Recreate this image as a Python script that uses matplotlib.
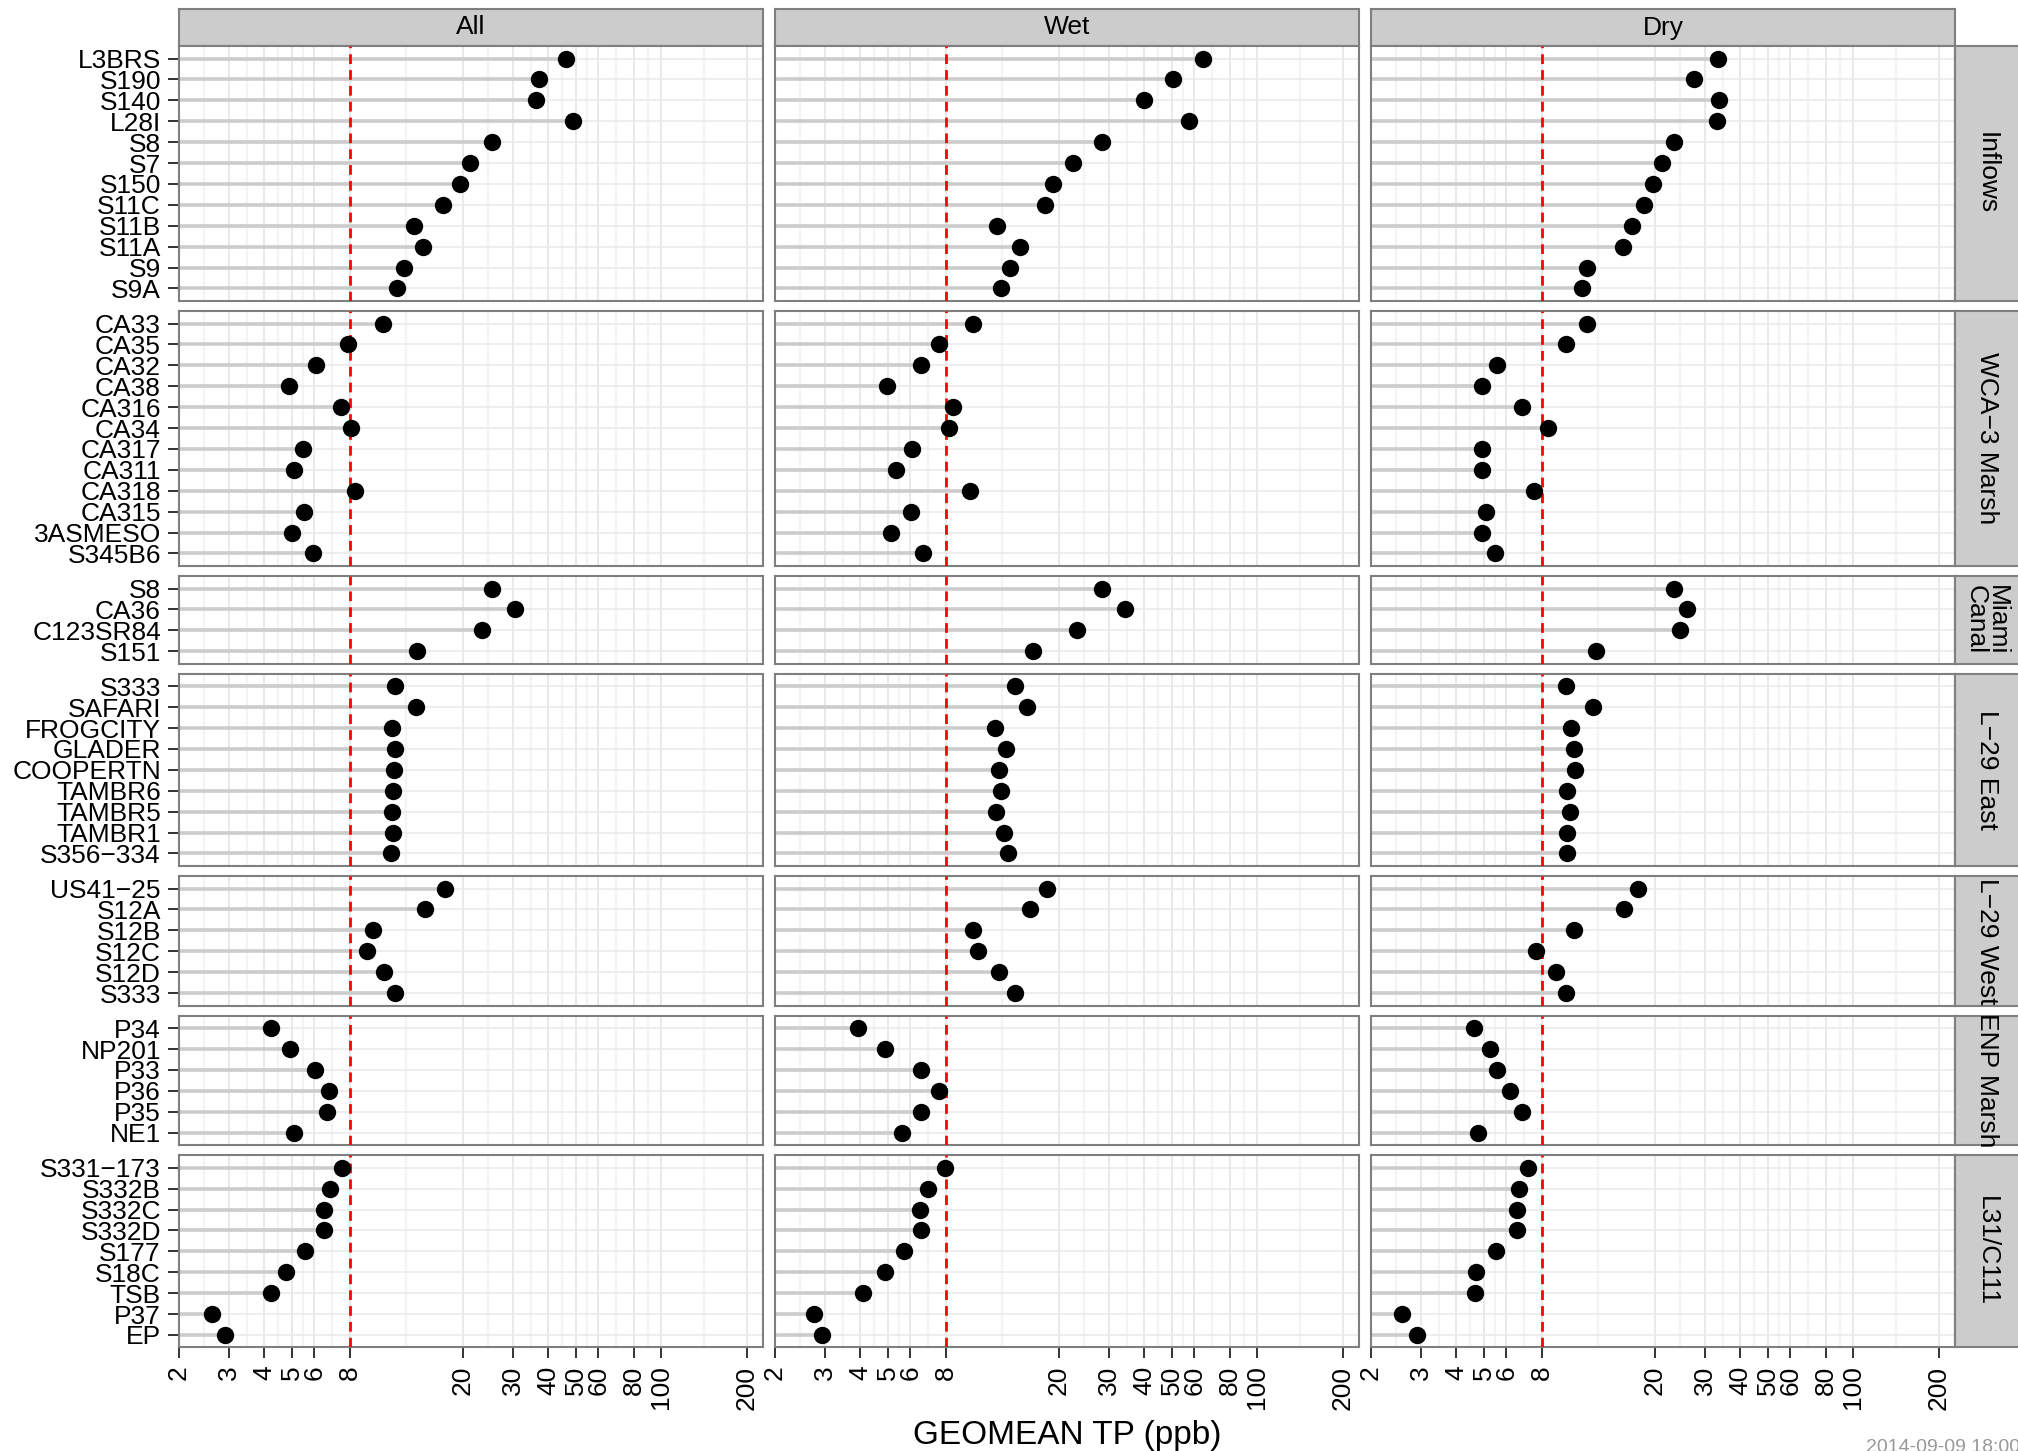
#%% Imports

import numpy as np
import matplotlib.pyplot as plt
from matplotlib.ticker import NullFormatter

plt.rcParams['font.family'] = ['Liberation Sans', 'DejaVu Sans']

#%% Data (geomean TP, ppb)

seasons = ['All', 'Wet', 'Dry']
regions = ['Inflows', 'WCA\u22123 Marsh', 'Miami\nCanal', 'L\u221229 East',
           'L\u221229 West', 'ENP Marsh', 'L31/C111']

inflows_sites = ['L3BRS', 'S190', 'S140', 'L28I', 'S8', 'S7', 'S150', 'S11C', 'S11B', 'S11A', 'S9', 'S9A']
inflows_all = [46.1, 37.2, 36.2, 48.9, 25.3, 21.2, 19.6, 17.0, 13.4, 14.5, 12.4, 11.7]
inflows_wet = [64.5, 50.3, 40.0, 57.5, 28.3, 22.5, 19.1, 17.8, 12.1, 14.6, 13.4, 12.5]
inflows_dry = [33.3, 27.5, 33.7, 33.1, 23.4, 21.2, 19.7, 18.3, 16.6, 15.4, 11.5, 11.1]

wca3_sites = ['CA33', 'CA35', 'CA32', 'CA38', 'CA316', 'CA34', 'CA317', 'CA311', 'CA318', 'CA315', '3ASMESO', 'S345B6']
wca3_all = [10.5, 7.9, 6.07, 4.88, 7.43, 8.04, 5.46, 5.08, 8.31, 5.50, 5.00, 5.93]
wca3_wet = [10.0, 7.59, 6.52, 4.98, 8.46, 8.17, 6.07, 5.33, 9.70, 6.05, 5.12, 6.66]
wca3_dry = [11.5, 9.74, 5.54, 4.91, 6.78, 8.37, 4.94, 4.91, 7.52, 5.08, 4.92, 5.45]

miami_sites = ['S8', 'CA36', 'C123SR84', 'S151']
miami_all = [25.3, 30.5, 23.3, 13.8]
miami_wet = [28.3, 34.1, 23.2, 16.2]
miami_dry = [23.4, 25.9, 24.6, 12.4]

l29e_sites = ['S333', 'SAFARI', 'FROGCITY', 'GLADER', 'COOPERTN', 'TAMBR6', 'TAMBR5', 'TAMBR1', 'S356\u2212334']
l29e_all = [11.57, 13.7, 11.25, 11.57, 11.48, 11.33, 11.25, 11.33, 11.2]
l29e_wet = [14.0, 15.4, 11.9, 13.0, 12.3, 12.5, 12.05, 12.8, 13.2]
l29e_dry = [9.74, 12.1, 10.1, 10.35, 10.45, 9.84, 10.07, 9.84, 9.77]

l29w_sites = ['US41\u221225', 'S12A', 'S12B', 'S12C', 'S12D', 'S333']
l29w_all = [17.3, 14.7, 9.61, 9.18, 10.52, 11.57]
l29w_wet = [18.1, 15.8, 10.0, 10.4, 12.35, 14.0]
l29w_dry = [17.4, 15.6, 10.4, 7.62, 8.96, 9.74]

enp_sites = ['P34', 'NP201', 'P33', 'P36', 'P35', 'NE1']
enp_all = [4.21, 4.94, 6.03, 6.77, 6.63, 5.09]
enp_wet = [3.91, 4.90, 6.56, 7.54, 6.52, 5.58]
enp_dry = [4.60, 5.27, 5.56, 6.19, 6.78, 4.78]

l31_sites = ['S331\u2212173', 'S332B', 'S332C', 'S332D', 'S177', 'S18C', 'TSB', 'P37', 'EP']
l31_all = [7.50, 6.79, 6.49, 6.49, 5.55, 4.76, 4.21, 2.61, 2.90]
l31_wet = [7.95, 6.93, 6.46, 6.56, 5.69, 4.90, 4.08, 2.74, 2.92]
l31_dry = [7.15, 6.62, 6.55, 6.53, 5.50, 4.68, 4.65, 2.57, 2.90]

x_breaks = [2, 3, 4, 5, 6, 8, 20, 30, 40, 50, 60, 80, 100, 200]
x_labels = ['2', '3', '4', '5', '6', '8', '20', '30', '40', '50', '60', '80', '100', '200']
target = 8

panels = [
    (inflows_sites, [inflows_all, inflows_wet, inflows_dry]),
    (wca3_sites, [wca3_all, wca3_wet, wca3_dry]),
    (miami_sites, [miami_all, miami_wet, miami_dry]),
    (l29e_sites, [l29e_all, l29e_wet, l29e_dry]),
    (l29w_sites, [l29w_all, l29w_wet, l29w_dry]),
    (enp_sites, [enp_all, enp_wet, enp_dry]),
    (l31_sites, [l31_all, l31_wet, l31_dry]),
]

#%% Layout (pixels)

W, H, dpi = 2018, 1451, 100
col_x = [179, 775, 1371]
col_w = 584
top0, gap, unit = 46, 10, 20.9
xlim = (2, 228)
minor_breaks = np.sqrt(np.array(x_breaks[:-1]) * np.array(x_breaks[1:]))

fs = 19
border = '#7f7f7f'

def fbox(x, y, w, h):
    return [x / W, 1 - (y + h) / H, w / W, h / H]

fig = plt.figure(figsize=(W / dpi, H / dpi), dpi=dpi)

# top strips
for c, s in enumerate(seasons):
    sax = fig.add_axes(fbox(col_x[c], 9, col_w, 37))
    sax.set_facecolor('#cccccc')
    sax.set_xticks([]); sax.set_yticks([])
    for sp in sax.spines.values():
        sp.set_color(border); sp.set_linewidth(1.5)
    sax.text(0.5, 0.5, s, ha='center', va='center', fontsize=fs, transform=sax.transAxes)

y_top = top0
for r, (sites, series) in enumerate(panels):
    n = len(sites)
    h = (n + 0.2) * unit
    ypos = np.arange(n)[::-1]
    for c in range(3):
        ax = fig.add_axes(fbox(col_x[c], y_top, col_w, h))
        vals = series[c]
        ax.set_xscale('log')
        ax.set_xlim(*xlim)
        ax.set_ylim(-0.6, n - 0.4)
        ax.set_xticks(x_breaks)
        ax.set_xticklabels(x_labels)
        ax.set_xticks(minor_breaks, minor=True)
        ax.xaxis.set_minor_formatter(NullFormatter())
        ax.set_yticks(ypos)
        ax.set_yticklabels(sites)
        ax.grid(which='minor', axis='x', color='#f4f4f4', lw=1.6, zorder=0)
        ax.grid(which='major', axis='x', color='#e5e5e5', lw=1.2, zorder=0)
        ax.grid(which='major', axis='y', color='#ebebeb', lw=1.2, zorder=0)
        ax.set_axisbelow(True)

        ax.hlines(ypos, xlim[0], vals, color='#cccccc', lw=2.6, zorder=2)
        ax.axvline(target, color='red', lw=2, ls=(0, (3.5, 2.2)), zorder=3)
        ax.plot(vals, ypos, 'o', color='black', ms=12.5, mew=0, zorder=4)

        ax.tick_params(which='minor', length=0)
        ax.tick_params(which='major', length=8, width=1.4, color='#333333',
                       labelsize=fs, pad=5)
        ax.tick_params(axis='x', labelrotation=90)
        if r != len(panels) - 1:
            ax.tick_params(axis='x', bottom=False, labelbottom=False)
        if c != 0:
            ax.tick_params(axis='y', left=False, labelleft=False)
        for sp in ax.spines.values():
            sp.set_color(border); sp.set_linewidth(1.5)

    # right strip
    rax = fig.add_axes(fbox(1955, y_top, 70, h))
    rax.set_facecolor('#cccccc')
    rax.set_xticks([]); rax.set_yticks([])
    for sp in rax.spines.values():
        sp.set_color(border); sp.set_linewidth(1.5)
    rax.text(31.5 / 70, 0.5, regions[r], ha='center', va='center', rotation=270,
             fontsize=fs, linespacing=0.85, transform=rax.transAxes)

    y_top += h + gap

fig.text(1067 / W, 1 - 1444 / H, 'GEOMEAN TP (ppb)', ha='center', va='baseline', fontsize=24)
# timestamp, cut by the bottom and right edges as in the original
fig.text(1866 / W, 1 - 1439 / H, '2014-09-09 18:00:00', ha='left', va='top',
         fontsize=14, color='#999999')

plt.savefig('out.png', dpi=dpi)
